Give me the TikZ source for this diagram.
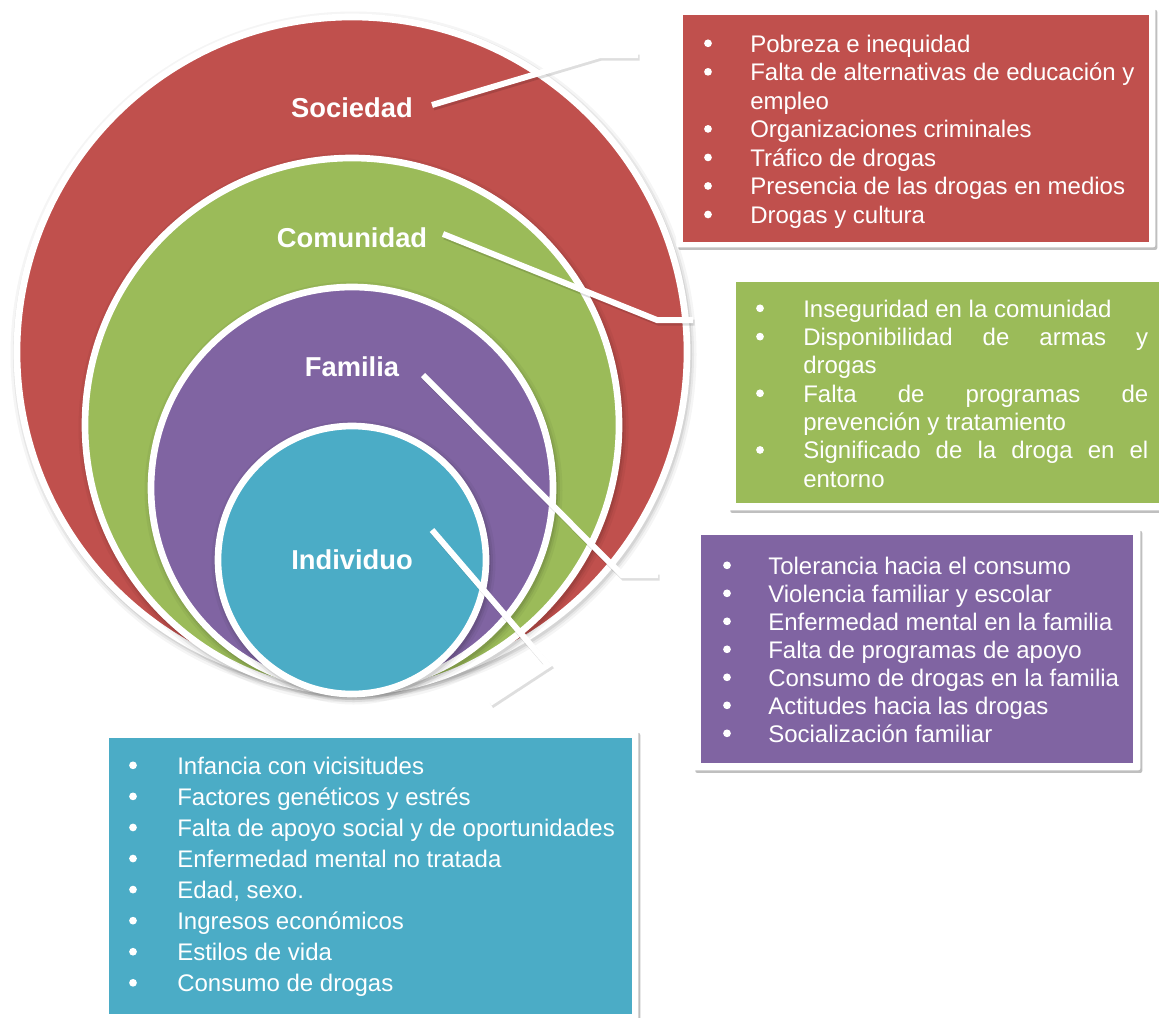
\documentclass[tikz,border=0pt]{standalone}
\usepackage{fontspec}
\setmainfont{Liberation Sans}
\usepackage{array}
\usetikzlibrary{shadows}
\definecolor{socred}{HTML}{C0504D}
\definecolor{comgreen}{HTML}{9BBB59}
\definecolor{fampurple}{HTML}{8064A2}
\definecolor{indteal}{HTML}{4BACC6}
\newcommand\softshade[3]{%
  \foreach \d/\o in {8/0.04,5.5/0.06,3.5/0.08}{%
    \fill[black,opacity=\o] (#1+1.5,#2+2.5) circle[radius={(#3+\d)*0.75pt}];}}
\tikzset{
  ring/.style={circle, draw=white, line width=5pt, inner sep=0pt},
  lbl/.style={text=white, font=\fontsize{20.5}{24}\selectfont\bfseries, inner sep=0pt},
  link/.style={draw=white, line width=4.5pt, line join=miter},
  linkshade/.style={draw=black, opacity=0.13, line width=4.5pt, line join=miter,
    transform canvas={shift={(1.5,2.5)}}},
  frame/.style={anchor=north west, fill=white, inner sep=0pt, rounded corners=1.5pt,
    drop shadow={shadow xshift=1.5pt, shadow yshift=-2pt, opacity=0.25, fill=black}},
  inbox/.style={anchor=north west, inner sep=0pt},
  listtext/.style={anchor=base west, inner sep=0pt, text=white},
  dot/.style={fill=white}
}
\begin{document}
\begin{tikzpicture}[x=0.75pt,y=-0.75pt]
\useasboundingbox (0,0) rectangle (1159,1017);

% circles
\softshade{352}{352}{335}
\node[ring, fill=socred, minimum size=502.5pt] (csoc) at (352,352) {};
\softshade{352}{425}{267}
\node[ring, fill=comgreen, minimum size=400.5pt] (ccom) at (352,425) {};
\softshade{352}{488}{201}
\node[ring, fill=fampurple, minimum size=301.5pt] (cfam) at (352,488) {};
\softshade{352}{560}{134}
\node[ring, fill=indteal, minimum size=201pt] (cind) at (352,560) {};

% labels
\node[lbl] (lsoc) at (352,108) {Sociedad};
\node[lbl] (lcom) at (352,238) {Comunidad};
\node[lbl] (lfam) at (352,367) {Familia};
\node[lbl] (lind) at (352,560) {Individuo};

% connector points
\coordinate (s0) at (432,105); \coordinate (s1) at (600,55); \coordinate (s2) at (638,55);
\coordinate (c0) at (443,234); \coordinate (c1) at (657,320); \coordinate (c2) at (693,320);
\coordinate (f0) at (423,375); \coordinate (f1) at (622,575); \coordinate (f2) at (658,575);
\coordinate (i0) at (432,530); \coordinate (i1) at (548,665); \coordinate (i2) at (490,703);

\draw[linkshade] (s0) -- (s1) -- (s2);
\draw[linkshade] (c0) -- (c1) -- (c2);
\draw[linkshade] (f0) -- (f1) -- (f2);
\draw[linkshade] (i0) -- (i1) -- (i2);
\draw[link] (s0) -- (s1) -- (s2);
\draw[link] (c0) -- (c1) -- (c2);
\draw[link] (f0) -- (f1) -- (f2);
\draw[link] (i0) -- (i1) -- (i2);

% boxes
\node[frame, minimum width=359.25pt, minimum height=180pt] (fsoc) at (676,7) {};
\node[inbox, fill=socred, minimum width=349.5pt, minimum height=170.25pt] (bsoc) at (683,15) {};
\node[frame, minimum width=335.25pt, minimum height=177pt] (fcom) at (728,274) {};
\node[inbox, fill=comgreen, minimum width=325.5pt, minimum height=165.75pt] (bcom) at (736,282) {};
\node[frame, minimum width=335.25pt, minimum height=181.5pt] (ffam) at (693,528) {};
\node[inbox, fill=fampurple, minimum width=324pt, minimum height=171pt] (bfam) at (701,535) {};
\node[frame, minimum width=402.75pt, minimum height=221.25pt] (find) at (101,730) {};
\node[inbox, fill=indteal, minimum width=392.25pt, minimum height=207pt] (bind) at (109,738) {};

% bullets
\foreach \k in {0,1,3,4,5,6} \fill[dot] (708,52+\k*28.53-8.7) circle[radius=2.9pt];
\foreach \k in {0,1,3,5} \fill[dot] (760,317+\k*28.33-8.7) circle[radius=2.9pt];
\foreach \k in {0,...,6} \fill[dot] (727,574+\k*28-8.7) circle[radius=2.9pt];
\foreach \k in {0,...,7} \fill[dot] (133,774+\k*31.07-8.7) circle[radius=2.9pt];

% texts
\node[listtext, font=\fontsize{18}{21.4}\selectfont] (tsoc) at (750,52) {%
\begin{tabular}[t]{@{}l@{}}
Pobreza e inequidad\\
Falta de alternativas de educación y\\
empleo\\
Organizaciones criminales\\
Tráfico de drogas\\
Presencia de las drogas en medios\\
Drogas y cultura
\end{tabular}};

\node[listtext, font=\fontsize{18}{21.25}\selectfont] (tcom) at (803,317) {%
\begin{tabular}[t]{@{}p{258.75pt}@{}}
Inseguridad en la comunidad\\
\makebox[\linewidth][s]{Disponibilidad de armas y}\\
drogas\\
\makebox[\linewidth][s]{Falta de programas de}\\
prevención y tratamiento\\
\makebox[\linewidth][s]{Significado de la droga en el}\\
entorno
\end{tabular}};

\node[listtext, font=\fontsize{18}{21}\selectfont] (tfam) at (768,574) {%
\begin{tabular}[t]{@{}l@{}}
Tolerancia hacia el consumo\\
Violencia familiar y escolar\\
Enfermedad mental en la familia\\
Falta de programas de apoyo\\
Consumo de drogas en la familia\\
Actitudes hacia las drogas\\
Socialización familiar
\end{tabular}};

\node[listtext, font=\fontsize{18}{23.3}\selectfont] (tind) at (177,774) {%
\begin{tabular}[t]{@{}l@{}}
Infancia con vicisitudes\\
Factores genéticos y estrés\\
Falta de apoyo social y de oportunidades\\
Enfermedad mental no tratada\\
Edad, sexo.\\
Ingresos económicos\\
Estilos de vida\\
Consumo de drogas
\end{tabular}};
\end{tikzpicture}
\end{document}
